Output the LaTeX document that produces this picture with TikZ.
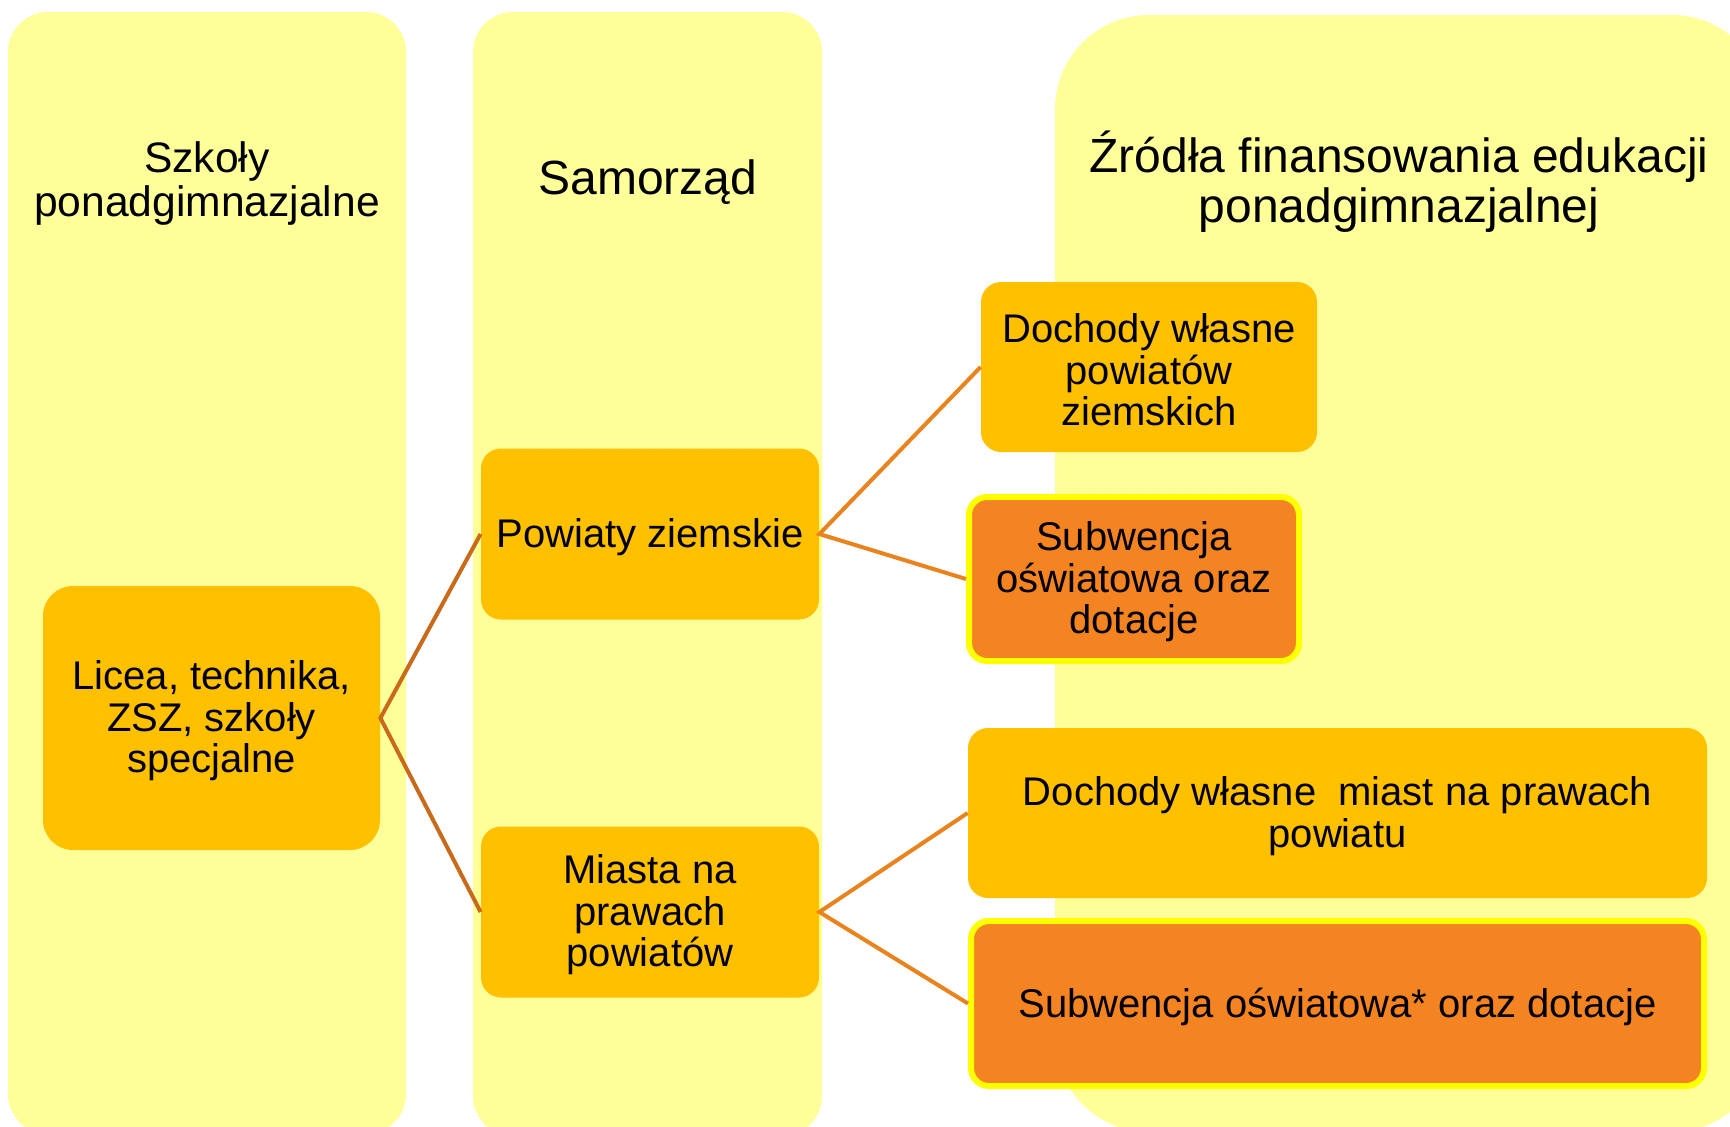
\documentclass[tikz,border=0pt]{standalone}
\usepackage{fontspec}
\setmainfont{Liberation Sans}
\definecolor{colbg}{HTML}{FFFF99}
\definecolor{amber}{HTML}{FFC000}
\definecolor{orangebox}{HTML}{F48321}
\definecolor{borderyel}{HTML}{FFFF00}
\definecolor{lineleft}{HTML}{C96A1B}
\definecolor{lineright}{HTML}{E8831E}
\tikzset{
  column/.style={fill=colbg, draw=none},
  boxtext/.style={font=\fontsize{20}{20.7}\selectfont, align=center, inner sep=0pt},
  ambox/.style={rectangle, inner sep=0pt, fill=amber, rounded corners=10pt},
  orbox/.style={rectangle, inner sep=0pt, fill=orangebox, draw=borderyel, line width=3pt, rounded corners=9pt},
  header/.style={align=center, inner sep=0pt},
  connL/.style={draw=lineleft, line width=2pt},
  connR/.style={draw=lineright, line width=2pt}
}
\begin{document}
\begin{tikzpicture}[x=0.5pt,y=-0.5pt]
\useasboundingbox (0,0) rectangle (1730,1126);
\clip (0,0) rectangle (1730,1126);
% columns
\path[column, rounded corners=20pt] (8,12) rectangle (406,1134);
\path[column, rounded corners=20pt] (473,12) rectangle (822,1136);
\path[column, rounded corners=47pt] (1055,15) rectangle (1766,1132);
% headers
\node[header, font=\fontsize{21.3}{22}\selectfont] (h1) at (207,183) {Szkoły\\ponadgimnazjalne};
\node[header, font=\fontsize{24}{25}\selectfont] (h2) at (648,182) {Samorząd};
\node[header, font=\fontsize{24}{25}\selectfont] (h3) at (1399,182) {Źródła finansowania edukacji\\ponadgimnazjalnej};
% boxes
\node[ambox, rounded corners=15pt, minimum width=168.5pt, minimum height=132pt] (licea) at (211.5,718) {};
\node[ambox, minimum width=169pt, minimum height=85.5pt] (powiaty) at (650,534) {};
\node[ambox, minimum width=169pt, minimum height=85.5pt] (miasta) at (650,912) {};
\node[ambox, minimum width=168pt, minimum height=85pt] (doch1) at (1149,367) {};
\node[orbox, minimum width=165pt, minimum height=82pt] (sub1) at (1134,579) {};
\node[ambox, minimum width=369.5pt, minimum height=85pt] (doch2) at (1337.5,813) {};
\node[orbox, minimum width=366.5pt, minimum height=82.5pt] (sub2) at (1337.5,1003.5) {};
% box texts
\node[boxtext] (liceaT) at ([yshift=-1.5pt]licea.center) {Licea, technika,\\ZSZ, szkoły\\specjalne};
\node[boxtext] (powiatyT) at ([yshift=-1.5pt]powiaty.center) {Powiaty ziemskie};
\node[boxtext] (miastaT) at ([yshift=-1.5pt]miasta.center) {Miasta na\\prawach\\powiatów};
\node[boxtext] (doch1T) at ([yshift=-1.5pt]doch1.center) {Dochody własne\\powiatów\\ziemskich};
\node[boxtext] (sub1T) at ([yshift=-1.5pt]sub1.center) {Subwencja\\oświatowa oraz\\dotacje};
\node[boxtext] (doch2T) at ([yshift=-1.5pt]doch2.center) {Dochody własne~ miast na prawach\\powiatu};
\node[boxtext] (sub2T) at ([yshift=-1.5pt]sub2.center) {Subwencja oświatowa* oraz dotacje};
% connectors
\draw[connL] (powiaty.west) -- (licea.east) -- (miasta.west);
\draw[connR] (doch1.west) -- (powiaty.east) -- (sub1.west);
\draw[connR] (doch2.west) -- (miasta.east) -- (sub2.west);
\end{tikzpicture}
\end{document}
